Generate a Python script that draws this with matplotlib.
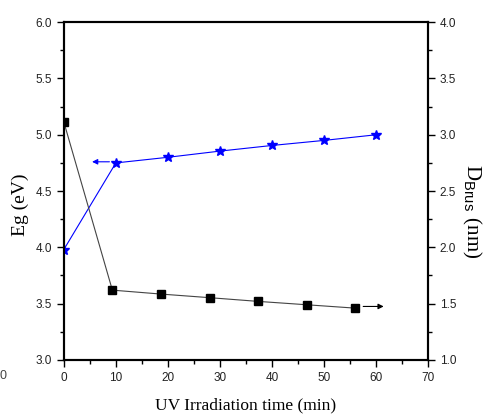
import numpy as np
import matplotlib
matplotlib.use("Agg")
import matplotlib.pyplot as plt
from matplotlib.ticker import MultipleLocator, FormatStrFormatter

# data
t_eg = [0, 10, 20, 30, 40, 50, 60]
eg = [3.98, 4.75, 4.80, 4.855, 4.905, 4.95, 5.00]

t_d = [0, 9.33, 18.67, 28, 37.33, 46.67, 56]
d_brus = [3.115, 1.62, 1.585, 1.553, 1.52, 1.49, 1.46]

plt.rcParams['font.family'] = ['Liberation Sans', 'DejaVu Sans']
plt.rcParams['mathtext.fontset'] = 'custom'
plt.rcParams['mathtext.rm'] = 'Liberation Serif'
plt.rcParams['mathtext.sf'] = 'Liberation Sans'
serif = 'Liberation Serif'

fig = plt.figure(figsize=(4.87, 4.19), dpi=100)
ax = fig.add_axes([0.131, 0.141, 0.748, 0.806])
ax2 = ax.twinx()

ax.plot(t_eg, eg, color='blue', lw=0.8, marker='*', ms=7, zorder=3)
ax2.plot(t_d, d_brus, color='#444444', lw=0.8, marker='s', ms=5.5,
         mfc='black', mec='black', zorder=3)

# direction arrows
ax.annotate('', xy=(4.9, 4.76), xytext=(9.3, 4.76),
            arrowprops=dict(arrowstyle='-|>', color='blue', lw=0.8,
                            mutation_scale=8))
ax2.annotate('', xy=(62, 1.475), xytext=(57, 1.475),
             arrowprops=dict(arrowstyle='-|>', color='black', lw=0.8,
                             mutation_scale=8))

ax.set_xlim(0, 70)
ax.set_ylim(3.0, 6.0)
ax2.set_ylim(1.0, 4.0)

ax.xaxis.set_major_locator(MultipleLocator(10))
ax.xaxis.set_minor_locator(MultipleLocator(5))
for a in (ax, ax2):
    a.yaxis.set_major_locator(MultipleLocator(0.5))
    a.yaxis.set_minor_locator(MultipleLocator(0.25))
    a.yaxis.set_major_formatter(FormatStrFormatter('%.1f'))
    a.tick_params(which='major', direction='out', length=5, width=1,
                  labelsize=8.5, labelcolor='#222222')
    a.tick_params(which='minor', direction='out', length=3, width=1)
    for s in a.spines.values():
        s.set_linewidth(1.5)

ax.set_xlabel('UV Irradiation time (min)', family=serif, fontsize=12.5,
              labelpad=10)
ax.set_ylabel('Eg (eV)', family=serif, fontsize=14)
ax.yaxis.set_label_coords(-0.095, 0.46)
ax2.set_ylabel(r'$\mathrm{D}_{\mathsf{Brus}}\mathrm{\ (nm)}$', fontsize=15,
               rotation=270, va='center')
ax2.yaxis.set_label_coords(1.12, 0.44)

fig.text(0.0, 0.095, '0', fontsize=9, color='#444444')

fig.savefig('out.png', dpi=100)
